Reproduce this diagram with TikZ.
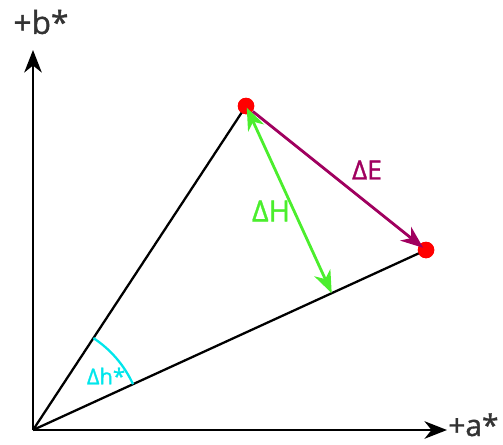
\documentclass[tikz,border=0pt]{standalone}
\usepackage{fontspec}
\setmainfont{Open Sans}
\newfontfamily\medfont[FakeBold=1.2]{Open Sans}
\usetikzlibrary{arrows.meta, calc}

\definecolor{deltaE}{RGB}{160,0,95}
\definecolor{deltaH}{RGB}{75,238,45}
\definecolor{hueang}{RGB}{0,230,235}

\begin{document}
\begin{tikzpicture}[x=0.02cm, y=0.02cm,
    axis/.style={line width=1.3pt, -{Stealth[length=4.5mm, width=3.5mm, inset=1.4mm]}},
    ray/.style={line width=1.3pt},
    dot/.style={circle, fill=red, inner sep=0pt, minimum size=3.3mm},
    axlabel/.style={font=\medfont\fontsize{18}{20}\selectfont, text=black!80},
    dlabel/.style={font=\medfont\fontsize{15}{17}\selectfont},
]
    \useasboundingbox (0,0) rectangle (503,444);

    \coordinate (O) at (33,14);
    \coordinate (btip) at (33,394);
    \coordinate (atip) at (447,14);

    \draw[axis] (O) -- (btip);
    \draw[axis] (O) -- (atip);
    \node[axlabel] (blabel) at (41,422) {+b*};
    \node[axlabel, anchor=base west, inner sep=0pt, font=\medfont\fontsize{17}{19}\selectfont] (alabel) at (448,8) {+a*};

    \node[dot] (p1) at (246,338) {};
    \node[dot] (p2) at (426,194) {};
    \coordinate (foot) at ($(O)!(p1)!(p2)$);

    \draw[ray] (O) -- (p1.center);
    \draw[ray] (O) -- (p2.center);
    \node[dot] at (p1) {};
    \node[dot] at (p2) {};

    \draw[hueang, line width=1.3pt] ($(O)+(24.6:110)$) arc[start angle=24.6, end angle=56.7, radius=110];
    \node[text=hueang, font=\medfont\fontsize{12.5}{14}\selectfont] (hlabel) at (106,68) {Δh*};

    \draw[deltaE, line width=1.6pt, -{Stealth[length=4.5mm, width=3.5mm, inset=1.4mm]}, shorten >=2pt] (p1) -- (p2.center);
    \node[dlabel, text=deltaE] (elabel) at (367,274) {ΔE};

    \draw[deltaH, line width=1.6pt, {Stealth[length=4.5mm, width=3.5mm, inset=1.4mm]}-{Stealth[length=4.5mm, width=3.5mm, inset=1.4mm]}, shorten <=1pt] (p1.center) -- (foot);
    \node[dlabel, text=deltaH, font=\medfont\fontsize{16.5}{18}\selectfont] (hlabel2) at (271,233) {ΔH};
\end{tikzpicture}
\end{document}
